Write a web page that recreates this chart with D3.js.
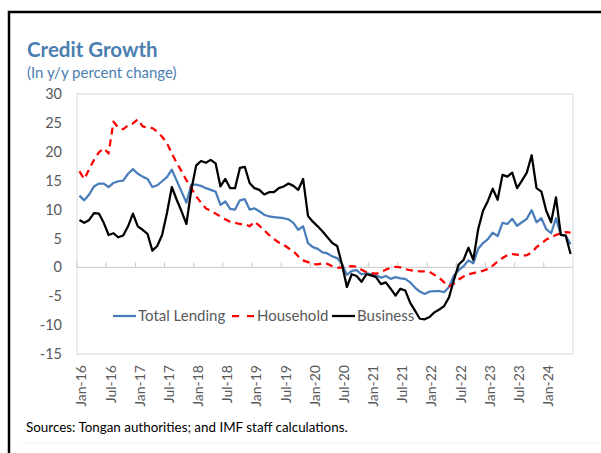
<!DOCTYPE html>
<html>
<head>
<meta charset="utf-8">
<script src="https://cdn.jsdelivr.net/npm/d3@7"></script>
<style>
body { margin: 0; background: #fff; }
text { font-family: Lato, "Open Sans", sans-serif; }
</style>
</head>
<body>
<div id="chart"></div>
<script>

// monthly categories, Jan-16 .. Jun-24
var months = d3.timeMonth.range(new Date(2016, 0, 1), new Date(2024, 6, 1)).map(d3.timeFormat("%b-%y"));

var tickLabels = ["Jan-16","Jul-16","Jan-17","Jul-17","Jan-18","Jul-18","Jan-19","Jul-19","Jan-20",
    "Jul-20","Jan-21","Jul-21","Jan-22","Jul-22","Jan-23","Jul-23","Jan-24"];

var yTicks = [-15, -10, -5, 0, 5, 10, 15, 20, 25, 30];

var totalLending = [12.4,11.6,12.6,14.0,14.5,14.5,13.9,14.6,14.9,15.0,16.2,17.0,
    16.2,15.7,15.3,13.9,14.2,14.9,15.6,16.9,15.0,13.1,11.2,14.3,
    14.3,14.1,13.7,13.4,13.1,10.8,11.4,10.1,10.0,11.6,11.8,10.0,
    10.2,9.7,9.1,8.8,8.7,8.6,8.5,8.3,7.7,6.5,7.1,4.2,
    3.5,3.2,2.6,2.4,1.9,1.6,0.6,-1.3,-0.6,-0.5,-1.2,-1.0,
    -1.2,-1.3,-1.8,-1.5,-2.0,-1.7,-1.9,-2.0,-2.6,-3.5,-4.2,-4.6,
    -4.2,-4.1,-4.1,-4.3,-3.4,-1.4,-0.5,0.2,1.2,0.7,3.2,4.2,
    4.9,6.0,5.4,7.7,7.5,8.4,7.2,7.8,8.4,9.9,7.8,8.5,
    6.6,5.9,8.5,5.6,5.5,4.0];

var household = [16.6,15.3,17.0,18.6,19.9,20.6,19.7,25.2,24.2,23.9,24.6,24.9,
    25.6,24.4,24.2,24.1,23.5,22.6,21.5,19.7,18.1,16.6,15.1,13.7,
    12.3,11.2,10.2,9.8,9.3,8.8,8.3,7.9,7.7,7.5,7.5,7.1,
    7.9,7.2,6.4,5.6,4.9,4.3,3.9,3.3,2.8,1.9,1.2,0.9,
    0.6,0.5,0.7,0.6,0.2,-0.1,0.0,0.1,0.2,0.1,-0.4,-0.8,
    -1.0,-1.1,-0.8,-0.4,-0.1,0.1,0.0,-0.3,-0.5,-0.6,-0.7,-0.7,
    -0.8,-1.3,-1.8,-2.6,-3.3,-2.8,-2.1,-1.6,-1.2,-1.0,-0.8,-0.6,
    -0.3,0.3,1.0,1.6,2.1,2.3,2.2,2.0,2.1,2.6,3.5,4.1,
    4.8,5.2,5.6,5.9,6.1,6.0];

var business = [8.2,7.7,8.2,9.4,9.3,7.7,5.6,5.9,5.2,5.5,7.1,9.3,
    7.1,6.5,5.8,2.9,3.7,5.6,9.4,13.9,11.7,9.7,7.5,13.4,
    17.6,18.4,18.1,18.6,18.0,14.0,15.3,13.7,13.7,17.2,17.4,14.6,
    13.7,13.4,12.6,13.0,13.0,13.7,14.0,14.5,14.1,13.4,15.3,8.9,
    7.9,7.1,6.2,5.2,4.2,3.7,0.5,-3.4,-1.2,-1.5,-2.5,-1.2,
    -1.4,-1.7,-2.9,-2.6,-3.7,-4.9,-3.7,-4.0,-6.1,-7.5,-8.9,-9.0,
    -8.6,-7.8,-7.3,-6.7,-5.2,-2.2,0.5,1.3,3.4,1.3,6.6,9.8,
    11.5,13.6,11.7,16.0,15.7,16.4,13.7,15.0,16.4,19.4,13.7,13.1,
    9.8,7.8,12.1,5.6,5.5,2.3];

var seriesNames = ["Total Lending", "Household", "Business"];
var seriesColors = ["#4a7ebb", "#ff0000", "#000000"];

var width = 601, height = 453;
var plot = { left: 77, right: 573, top: 94, bottom: 354 };

var svg = d3.select("#chart").append("svg")
    .attr("width", width)
    .attr("height", height);

// outer frame (only top and left edges show)
svg.append("path")
    .attr("d", "M9,453 V12 H601")
    .attr("fill", "none")
    .attr("stroke", "#000")
    .attr("stroke-width", 2.5);

svg.append("line")
    .attr("x1", 22).attr("x2", 601).attr("y1", 443).attr("y2", 443)
    .attr("stroke", "#f0f0f0");

svg.append("text")
    .attr("x", 27).attr("y", 57)
    .attr("font-size", 20.5).attr("font-weight", "bold")
    .attr("fill", "#4a7eb0")
    .text("Credit Growth");

svg.append("text")
    .attr("x", 27).attr("y", 78)
    .attr("font-size", 15)
    .attr("fill", "#4a7eb0")
    .text("(In y/y percent change)");

var x = d3.scaleBand()
    .domain(months)
    .range([plot.left, plot.right])
    .padding(0);

var y = d3.scaleLinear()
    .domain([-15, 30])
    .range([plot.bottom, plot.top]);

// plot frame
svg.append("rect")
    .attr("x", plot.left).attr("y", plot.top)
    .attr("width", plot.right - plot.left)
    .attr("height", plot.bottom - plot.top)
    .attr("fill", "none")
    .attr("stroke", "#d9d9d9");

// y labels
svg.selectAll(".ylab")
    .data(yTicks)
    .enter().append("text")
    .attr("class", "ylab")
    .attr("x", 62)
    .attr("y", function(d) { return y(d); })
    .attr("dy", "0.35em")
    .attr("text-anchor", "end")
    .attr("font-size", 14.5)
    .attr("fill", "#595959")
    .text(function(d) { return d; });

// zero axis with ticks every six months
var axisG = svg.append("g")
    .attr("transform", "translate(0," + y(0) + ")");

axisG.append("line")
    .attr("x1", plot.left).attr("x2", plot.right)
    .attr("stroke", "#c9c9c9");

axisG.selectAll(".tick")
    .data(tickLabels)
    .enter().append("line")
    .attr("class", "tick")
    .attr("x1", function(d) { return x(d); })
    .attr("x2", function(d) { return x(d); })
    .attr("y1", 0).attr("y2", -5)
    .attr("stroke", "#c9c9c9");

// rotated month labels
svg.selectAll(".xlab")
    .data(tickLabels)
    .enter().append("text")
    .attr("class", "xlab")
    .attr("transform", function(d) {
        return "translate(" + (x(d) + x.bandwidth() / 2 + 2) + ",365) rotate(-90)";
    })
    .attr("dy", "0.35em")
    .attr("text-anchor", "end")
    .attr("font-size", 14)
    .attr("fill", "#595959")
    .text(function(d) { return d; });

var line = d3.line()
    .x(function(d, i) { return x(months[i]) + x.bandwidth() / 2; })
    .y(function(d) { return y(d); });

var allSeries = [totalLending, household, business];

svg.selectAll(".series")
    .data(allSeries)
    .enter().append("path")
    .attr("class", "series")
    .attr("d", line)
    .attr("fill", "none")
    .attr("stroke", function(d, i) { return seriesColors[i]; })
    .attr("stroke-width", 2.25)
    .attr("stroke-linejoin", "round")
    .attr("stroke-dasharray", function(d, i) { return i == 1 ? "7,5" : null; });

// legend
var legendX = [113, 232, 332];
var legend = svg.selectAll(".legend")
    .data(seriesNames)
    .enter().append("g")
    .attr("class", "legend")
    .attr("transform", function(d, i) { return "translate(" + legendX[i] + ",316)"; });

legend.append("line")
    .attr("x1", 0).attr("x2", 23)
    .attr("stroke", function(d, i) { return seriesColors[i]; })
    .attr("stroke-width", 2.25)
    .attr("stroke-dasharray", function(d, i) { return i == 1 ? "7,8" : null; });

legend.append("text")
    .attr("x", 25)
    .attr("dy", "0.35em")
    .attr("font-size", 15)
    .attr("fill", "#595959")
    .text(function(d) { return d; });

svg.append("text")
    .attr("x", 26).attr("y", 432)
    .attr("font-size", 13.4)
    .attr("fill", "#000")
    .text("Sources: Tongan authorities; and IMF staff calculations.");

</script>
</body>
</html>
